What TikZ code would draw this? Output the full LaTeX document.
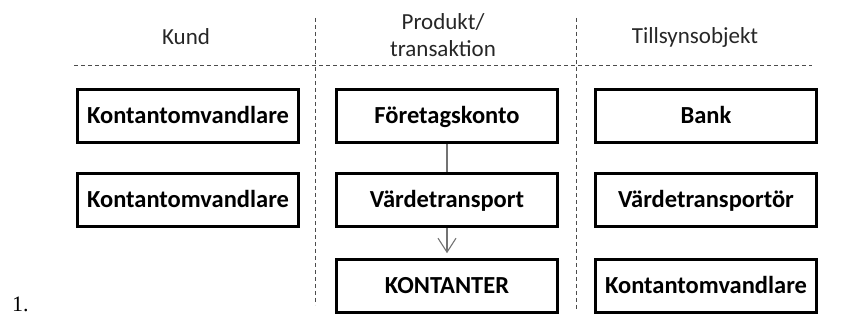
\documentclass[tikz,border=0pt]{standalone}
\usepackage{fontspec}
\setmainfont{Carlito}
\newfontfamily\numfont{Liberation Serif}
\usetikzlibrary{arrows.meta}
\begin{document}
\begin{tikzpicture}[x=1pt,y=-1pt,
  hdr/.style={font=\fontsize{23}{27}\selectfont, text=black!85, align=center},
  box/.style={draw=black, line width=2.6pt, minimum width=221pt, minimum height=53pt, font=\bfseries\fontsize{24.5}{28}\selectfont, inner sep=0pt, text height=19pt, text depth=4pt},
  sep/.style={draw=black!70, line width=0.9pt, dash pattern=on 4pt off 3pt},
  conn/.style={draw=black!55, line width=1.1pt}]
\useasboundingbox (0,0) rectangle (846,320);
% headers
\node[hdr] (hk) at (186,37) {Kund};
\node[hdr] (hp) at (443,35) {Produkt/\\transaktion};
\node[hdr] (ht) at (695,37) {Tillsynsobjekt};
% separators
\coordinate (v1t) at (315,18); \coordinate (v1b) at (315,305);
\coordinate (v2t) at (576,18); \coordinate (v2b) at (576,310);
\coordinate (hl) at (74,65); \coordinate (hr) at (812,65);
\draw[sep] (v1t) -- (v1b);
\draw[sep] (v2t) -- (v2b);
\draw[sep] (hl) -- (hr);
% boxes
\node[box] (k1) at (188,116) {Kontantomvandlare};
\node[box] (k2) at (188,200) {Kontantomvandlare};
\node[box] (p1) at (447,116) {Företagskonto};
\node[box] (p2) at (447,200) {Värdetransport};
\node[box] (p3) at (447,286) {KONTANTER};
\node[box] (t1) at (706,116) {Bank};
\node[box] (t2) at (706,200) {Värdetransportör};
\node[box] (t3) at (706,286) {Kontantomvandlare};
% connectors
\draw[conn] (p1) -- (p2);
\draw[conn, -{Straight Barb[length=14pt,width=18pt,line width=1.1pt]}, shorten >=5pt] (p2) -- (p3);
% number
\node[font=\numfont\fontsize{22}{24}\selectfont, anchor=base west, inner sep=0pt] (num) at (12,312) {1.};
\end{tikzpicture}
\end{document}
